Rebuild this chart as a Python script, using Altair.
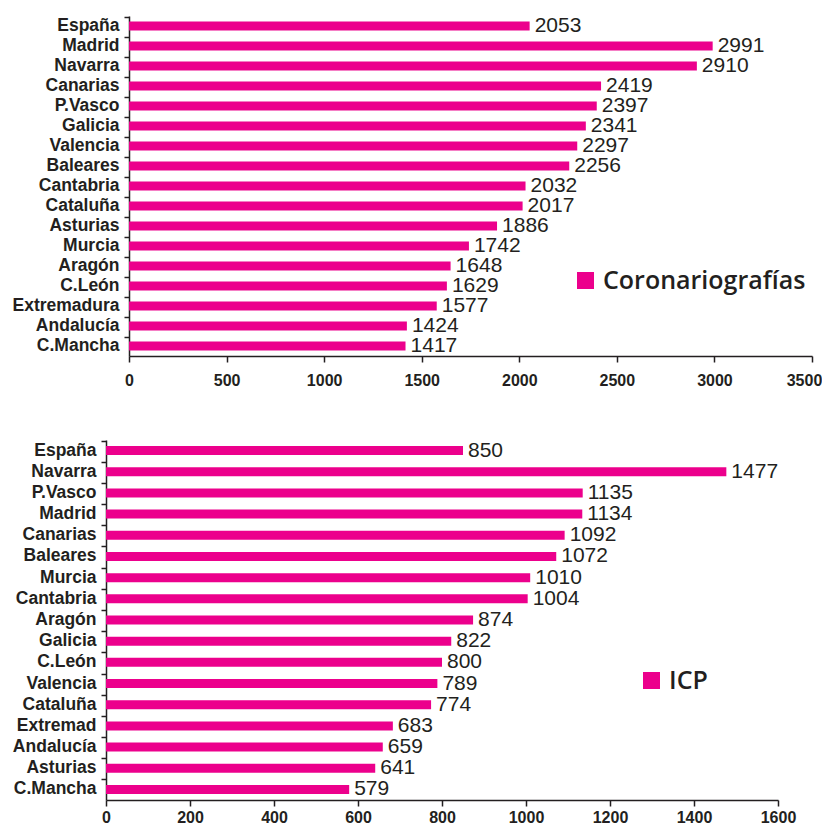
import altair as alt
import pandas as pd

# Top panel: Coronariografías
coro_regions = ["España", "Madrid", "Navarra", "Canarias", "P.Vasco", "Galicia", "Valencia",
                "Baleares", "Cantabria", "Cataluña", "Asturias", "Murcia", "Aragón", "C.León",
                "Extremadura", "Andalucía", "C.Mancha"]
coro_values = [2053, 2991, 2910, 2419, 2397, 2341, 2297, 2256, 2032, 2017, 1886, 1742,
               1648, 1629, 1577, 1424, 1417]
coro_ticks = [0, 500, 1000, 1500, 2000, 2500, 3000, 3500]

# Bottom panel: ICP
icp_regions = ["España", "Navarra", "P.Vasco", "Madrid", "Canarias", "Baleares", "Murcia",
               "Cantabria", "Aragón", "Galicia", "C.León", "Valencia", "Cataluña", "Extremad",
               "Andalucía", "Asturias", "C.Mancha"]
icp_values = [850, 1477, 1135, 1134, 1092, 1072, 1010, 1004, 874, 822, 800, 789, 774,
              683, 659, 641, 579]
icp_ticks = [0, 200, 400, 600, 800, 1000, 1200, 1400, 1600]

MAGENTA = "#EC008C"
INK = "#231F20"
FONT = "Liberation Sans, Arial, sans-serif"


def panel(regions, values, series, ticks, width, height, lx, ly, shift=0, xpad=13,
          last_offset=0):
    df = pd.DataFrame({"region": regions, "value": values, "serie": series})
    scale_kw = dict(domain=[ticks[0], ticks[-1]], nice=False)
    if shift:
        scale_kw["range"] = [shift, width]
    axis_kw = {}
    if last_offset:
        axis_kw["labelOffset"] = {"condition": {"test": f"datum.value == {ticks[-1]}",
                                                "value": last_offset}, "value": 0}
    x = alt.X("value:Q", scale=alt.Scale(**scale_kw),
              axis=alt.Axis(values=ticks, format="d", title=None, grid=False, labelFont=FONT,
                            labelFontWeight="bold", labelFontSize=16, labelColor=INK,
                            labelPadding=xpad, tickSize=6, tickWidth=1.5, tickColor=INK,
                            domainColor=INK, domainWidth=1.5, labelFlush=False, **axis_kw))
    y = alt.Y("region:N", sort=regions,
              axis=alt.Axis(title=None, labelFont=FONT, labelFontWeight="bold",
                            labelFontSize=17.5, labelColor=INK, labelPadding=5, tickSize=5,
                            tickWidth=1.5, tickColor=INK, domainColor=INK, domainWidth=1.5,
                            bandPosition=0, labelLimit=0, offset=-shift))
    base = alt.Chart(df)
    bars = base.mark_bar(size=9).encode(
        x=x, y=y,
        color=alt.Color("serie:N", scale=alt.Scale(range=[MAGENTA]),
                        legend=alt.Legend(orient="none", legendX=lx, legendY=ly, title=None,
                                          symbolType="square", symbolSize=289,
                                          symbolStrokeWidth=0, labelFont="Open Sans",
                                          labelFontWeight=600, labelFontSize=25,
                                          labelColor=INK, labelOffset=5, padding=0,
                                          labelLimit=0)))
    labels = base.mark_text(align="left", baseline="middle", dx=5, fontSize=21,
                            font=FONT, color=INK).encode(x="value:Q", y=alt.Y("region:N", sort=regions),
                                                         text="value:Q")
    return (bars + labels).properties(width=width, height=height)


top = panel(coro_regions, coro_values, "Coronariografías", coro_ticks, 706, 340, 467, 252,
            shift=23, xpad=10, last_offset=-8)
bottom = panel(icp_regions, icp_values, "ICP", icp_ticks, 672, 360, 533, 228, xpad=3)

chart = alt.concat(top, bottom, columns=1, spacing=51).properties(
    padding={"left": 4, "top": 7, "right": 0, "bottom": 0},
).resolve_scale(color="independent").resolve_legend(color="independent").configure_view(
    stroke=None
)

chart.save("out.html", embed_options={"renderer": "svg", "actions": False})
